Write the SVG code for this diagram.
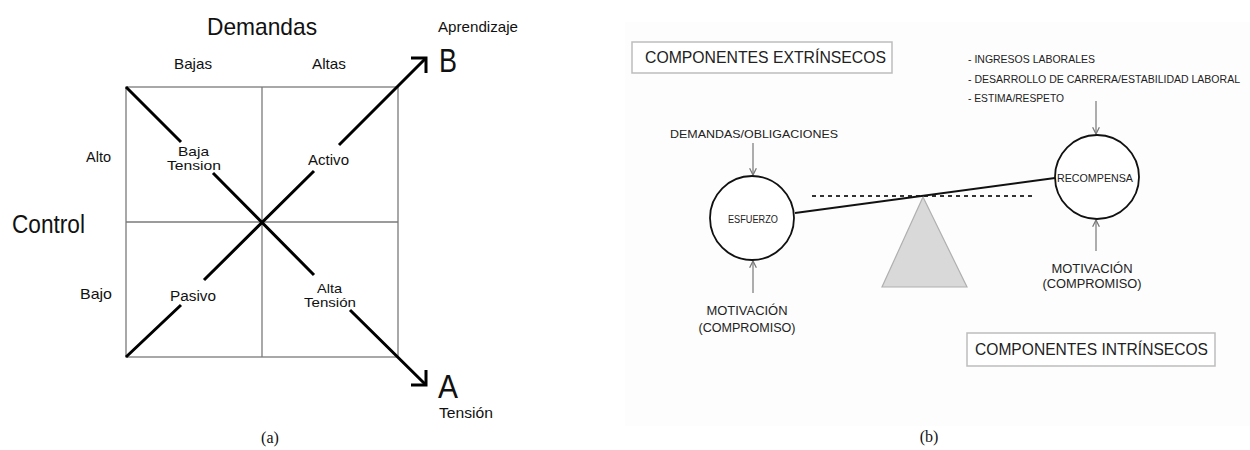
<svg xmlns="http://www.w3.org/2000/svg" width="1250" height="450" viewBox="0 0 1250 450">
<style>
.a{font-family:"Liberation Sans",Arial,sans-serif;fill:#111}
.b{font-family:"Liberation Sans",Arial,sans-serif;fill:#222}
.cap{font-family:"Liberation Serif","Times New Roman",serif;font-size:16px;fill:#111}
.grid{stroke:#7a7a7a;stroke-width:1.3;fill:none}
.diag{stroke:#000;stroke-width:3;fill:none;stroke-linecap:butt}
.head{stroke:#000;stroke-width:3;fill:none;stroke-linejoin:miter}
.circ{fill:#fff;stroke:#111;stroke-width:1.8}
.thin{stroke:#8a8a8a;stroke-width:1.4;fill:none}
.lbox{fill:#fff;stroke:#bdbdbd;stroke-width:1.5}
</style>
<defs>
<marker id="ah" viewBox="0 0 10 10" refX="9" refY="5" markerWidth="6" markerHeight="6" orient="auto">
<path d="M1,1 L9,5 L1,9" fill="none" stroke="#777" stroke-width="1.5"/>
</marker>
</defs>
<rect width="1250" height="450" fill="#fff"/>

<!-- Panel (a) -->
<g id="grid">
<rect class="grid" x="126" y="87" width="272" height="270"/>
<line class="grid" x1="262" y1="87" x2="262" y2="357"/>
<line class="grid" x1="126" y1="222" x2="398" y2="222"/>
</g>
<g id="connectors-a">
<path class="diag" d="M126,87 L181,142 M213,173 L314,275 M350,310 L426,385"/>
<path class="diag" d="M126,357 L181,305 M204,280 L314,171 M339,145 L426,58"/>
<polyline class="head" points="411,58 426,58 426,73"/>
<polyline class="head" points="426,370 426,385 411,385"/>
</g>
<g id="axis-labels">
<text class="a" x="262" y="35" font-size="24" text-anchor="middle" textLength="110" lengthAdjust="spacingAndGlyphs">Demandas</text>
<text class="a" x="193" y="69" font-size="15" text-anchor="middle" textLength="38" lengthAdjust="spacingAndGlyphs">Bajas</text>
<text class="a" x="329" y="69" font-size="15" text-anchor="middle" textLength="34" lengthAdjust="spacingAndGlyphs">Altas</text>
<text class="a" x="12" y="233" font-size="26" textLength="73" lengthAdjust="spacingAndGlyphs">Control</text>
<text class="a" x="86" y="162" font-size="15" textLength="25" lengthAdjust="spacingAndGlyphs">Alto</text>
<text class="a" x="80" y="299" font-size="15" textLength="32" lengthAdjust="spacingAndGlyphs">Bajo</text>
</g>
<g id="node-baja-tension">
<text class="a" x="178" y="156" font-size="13" textLength="31" lengthAdjust="spacingAndGlyphs">Baja</text>
<text class="a" x="167" y="170" font-size="13" textLength="54" lengthAdjust="spacingAndGlyphs">Tension</text>
</g>
<g id="node-activo">
<text class="a" x="308" y="165" font-size="14" textLength="41" lengthAdjust="spacingAndGlyphs">Activo</text>
</g>
<g id="node-pasivo">
<text class="a" x="170" y="301" font-size="14" textLength="46" lengthAdjust="spacingAndGlyphs">Pasivo</text>
</g>
<g id="node-alta-tension">
<text class="a" x="317" y="293" font-size="13" textLength="25" lengthAdjust="spacingAndGlyphs">Alta</text>
<text class="a" x="304" y="307" font-size="13" textLength="52" lengthAdjust="spacingAndGlyphs">Tensión</text>
</g>
<g id="node-B">
<text class="a" x="438" y="32" font-size="15" textLength="80" lengthAdjust="spacingAndGlyphs">Aprendizaje</text>
<text class="a" x="439" y="72" font-size="33" textLength="18" lengthAdjust="spacingAndGlyphs">B</text>
</g>
<g id="node-A">
<text class="a" x="438" y="398" font-size="33" textLength="20" lengthAdjust="spacingAndGlyphs">A</text>
<text class="a" x="439" y="418" font-size="15" textLength="54" lengthAdjust="spacingAndGlyphs">Tensión</text>
</g>
<text class="cap" x="270" y="443" text-anchor="middle">(a)</text>

<!-- Panel (b) -->
<rect x="625" y="22" width="625" height="404" fill="#fdfdfd"/>
<g id="box-extrinsecos">
<rect class="lbox" x="632" y="42" width="260" height="31"/>
<text class="b" x="645" y="63" font-size="17" textLength="241" lengthAdjust="spacingAndGlyphs">COMPONENTES EXTRÍNSECOS</text>
</g>
<g id="box-intrinsecos">
<rect class="lbox" x="967" y="333" width="248" height="33"/>
<text class="b" x="975" y="355" font-size="17" textLength="233" lengthAdjust="spacingAndGlyphs">COMPONENTES INTRÍNSECOS</text>
</g>
<g id="rewards-list">
<text class="b" x="968" y="63" font-size="10.5" textLength="127" lengthAdjust="spacingAndGlyphs">- INGRESOS LABORALES</text>
<text class="b" x="968" y="83" font-size="10" textLength="272" lengthAdjust="spacingAndGlyphs">- DESARROLLO DE CARRERA/ESTABILIDAD LABORAL</text>
<text class="b" x="968" y="102" font-size="10.5" textLength="96" lengthAdjust="spacingAndGlyphs">- ESTIMA/RESPETO</text>
</g>
<g id="demandas-label">
<text class="b" x="670" y="138" font-size="11" textLength="168" lengthAdjust="spacingAndGlyphs">DEMANDAS/OBLIGACIONES</text>
</g>
<g id="fulcrum">
<polygon points="923,197 967,287 882,287" fill="#d9d9d9" stroke="#b0b0b0" stroke-width="1.2"/>
</g>
<g id="connectors-b">
<line x1="812" y1="196" x2="1032" y2="196" stroke="#333" stroke-width="2" stroke-dasharray="4,4"/>
<line x1="795" y1="213" x2="1055" y2="178" stroke="#111" stroke-width="2"/>
<line class="thin" x1="753" y1="143" x2="753" y2="175" marker-end="url(#ah)"/>
<line class="thin" x1="753" y1="293" x2="753" y2="261" marker-end="url(#ah)"/>
<line class="thin" x1="1096" y1="101" x2="1096" y2="134" marker-end="url(#ah)"/>
<line class="thin" x1="1096" y1="251" x2="1096" y2="220" marker-end="url(#ah)"/>
</g>
<g id="node-esfuerzo">
<circle class="circ" cx="752" cy="218" r="42"/>
<text class="b" x="753" y="223" font-size="10" text-anchor="middle" textLength="50" lengthAdjust="spacingAndGlyphs">ESFUERZO</text>
</g>
<g id="node-recompensa">
<circle class="circ" cx="1097" cy="177" r="42"/>
<text class="b" x="1095" y="182" font-size="11" text-anchor="middle" textLength="76" lengthAdjust="spacingAndGlyphs">RECOMPENSA</text>
</g>
<g id="motivacion-left">
<text class="b" x="747" y="315" font-size="12" text-anchor="middle" textLength="81" lengthAdjust="spacingAndGlyphs">MOTIVACIÓN</text>
<text class="b" x="747" y="332" font-size="12" text-anchor="middle" textLength="97" lengthAdjust="spacingAndGlyphs">(COMPROMISO)</text>
</g>
<g id="motivacion-right">
<text class="b" x="1092" y="273" font-size="12" text-anchor="middle" textLength="81" lengthAdjust="spacingAndGlyphs">MOTIVACIÓN</text>
<text class="b" x="1092" y="288" font-size="12" text-anchor="middle" textLength="99" lengthAdjust="spacingAndGlyphs">(COMPROMISO)</text>
</g>
<text class="cap" x="929" y="442" text-anchor="middle">(b)</text>
</svg>
